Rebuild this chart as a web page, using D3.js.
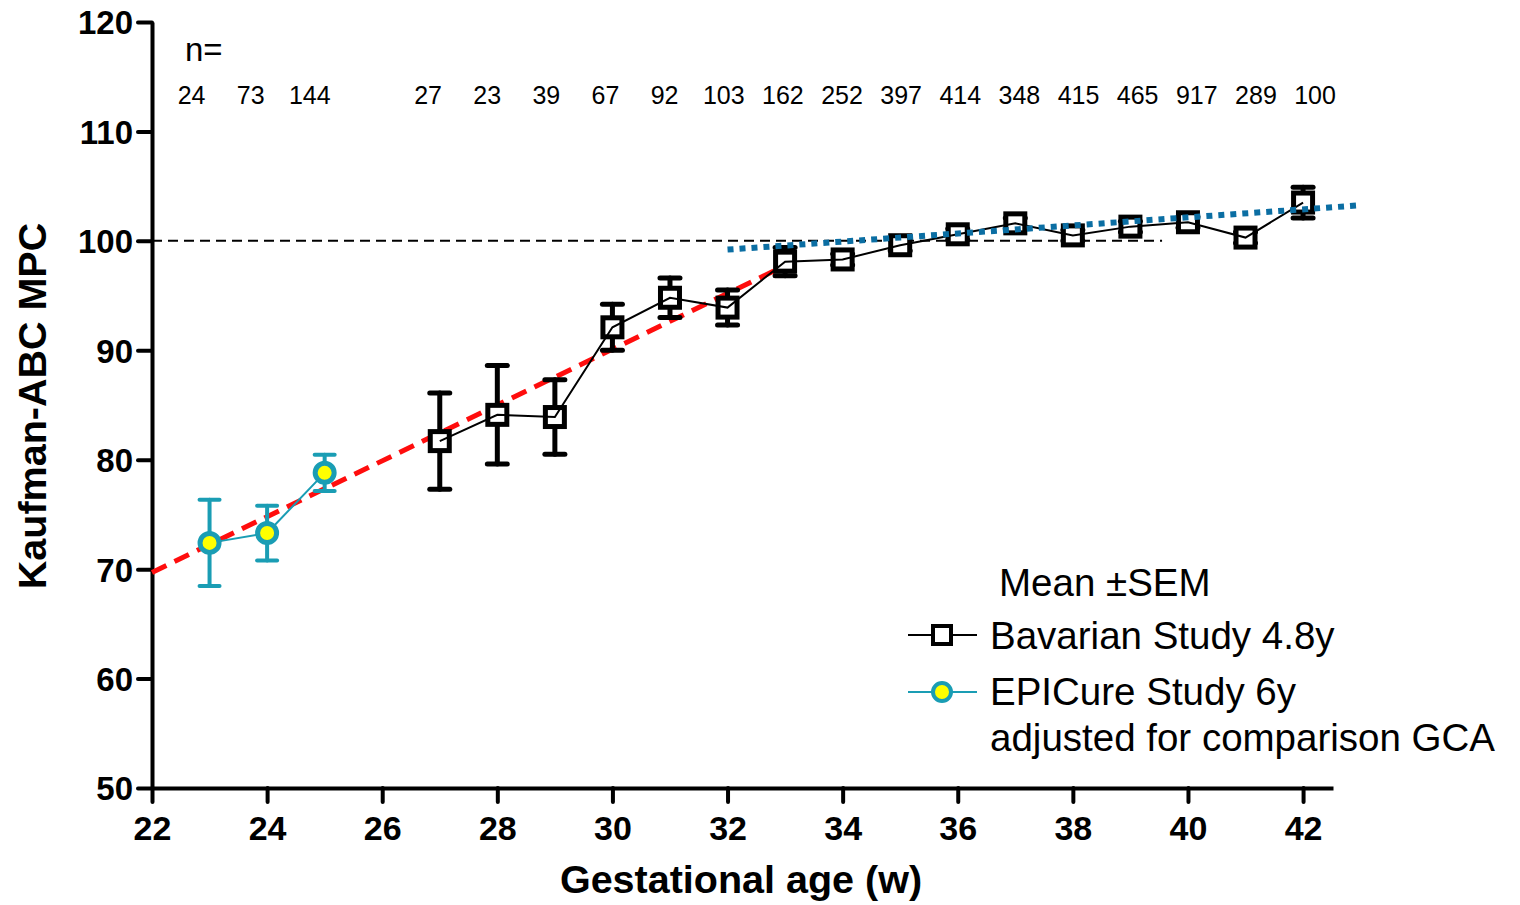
<!DOCTYPE html>
<html>
<head>
<meta charset="utf-8">
<script src="https://cdn.jsdelivr.net/npm/d3@7"></script>
<style>
  body { margin: 0; background: #fff; }
  svg { display: block; font-family: "Liberation Sans", Arial, sans-serif; }
  .axis path, .axis line { stroke: #000; stroke-width: 4px; }
  .axis line { stroke-linecap: round; }
  .axis text { font-weight: bold; fill: #000; }
</style>
</head>
<body>
<svg id="chart" width="1520" height="905"></svg>
<script>
// Bavarian Study 4.8y
var bavWeeks = [27, 28, 29, 30, 31, 32, 33, 34, 35, 36, 37, 38, 39, 40, 41, 42];
var bavMean  = [81.7, 84.1, 83.9, 92.1, 94.8, 93.9, 98.1, 98.3, 99.6, 100.6, 101.6, 100.5, 101.3, 101.7, 100.3, 103.5];
var bavSem   = [4.4, 4.5, 3.4, 2.1, 1.8, 1.6, 1.3, 0.5, 0.5, 0.5, 0.5, 0.5, 0.5, 0.5, 0.5, 1.4];

// EPICure Study 6y (adjusted)
var epiWeeks = [23, 24, 25];
var epiMean  = [72.4, 73.3, 78.8];
var epiSem   = [3.95, 2.5, 1.65];

// n per gestational week
var nWeeks  = [23, 24, 25, 27, 28, 29, 30, 31, 32, 33, 34, 35, 36, 37, 38, 39, 40, 41, 42];
var nCounts = [24, 73, 144, 27, 23, 39, 67, 92, 103, 162, 252, 397, 414, 348, 415, 465, 917, 289, 100];

// trend lines (endpoints)
var redTrend  = [[22, 69.7], [33.1, 98.0]];
var blueTrend = [[32, 99.2], [43, 103.25]];
var refLine   = [[22, 100], [39.55, 100]];

var xTicks = d3.range(22, 43, 2);
var yTicks = d3.range(50, 121, 10);

var svg = d3.select("#chart");

var x = d3.scaleLinear().domain([22, 42.52]).range([152, 1333]);
var y = d3.scaleLinear().domain([50, 120]).range([788, 22]);
// n labels sit slightly off the week positions in the original
var nx = d3.scaleLinear().domain([23, 42]).range([x(23) - 18, x(42) + 12]);

var TEAL = "#1a9db4";

// axes
var yAxis = svg.append("g")
    .attr("class", "axis")
    .attr("transform", "translate(" + x(22) + ",0)")
    .call(d3.axisLeft(y).tickValues(yTicks).tickSize(14).tickSizeOuter(0).tickPadding(5));
yAxis.selectAll("text").style("font-size", "33px").attr("dy", "0.36em");

var xAxis = svg.append("g")
    .attr("class", "axis")
    .attr("transform", "translate(0," + y(50) + ")")
    .call(d3.axisBottom(x).tickValues(xTicks).tickSize(14).tickSizeOuter(0).tickPadding(14));
xAxis.selectAll("text").style("font-size", "34px").attr("dy", "0.72em");

svg.append("text")
    .attr("x", 741)
    .attr("y", 893)
    .attr("text-anchor", "middle")
    .style("font-size", "39.5px").style("font-weight", "bold")
    .text("Gestational age (w)");

svg.append("text")
    .attr("transform", "translate(46," + 406 + ") rotate(-90)")
    .attr("text-anchor", "middle")
    .style("font-size", "39.5px").style("font-weight", "bold")
    .text("Kaufman-ABC MPC");

// n row
svg.append("text")
    .attr("x", 185).attr("y", 61)
    .style("font-size", "33px")
    .text("n=");

svg.append("g").selectAll("text")
    .data(nWeeks)
    .enter()
    .append("text")
    .attr("x", function(d) { return nx(d); })
    .attr("y", 104)
    .attr("text-anchor", "middle")
    .style("font-size", "25px")
    .text(function(d, i) { return nCounts[i]; });

var line = d3.line()
    .x(function(d) { return x(d[0]); })
    .y(function(d) { return y(d[1]); });

// reference line at 100
svg.append("path")
    .attr("d", line(refLine))
    .attr("fill", "none")
    .attr("stroke", "#000")
    .attr("stroke-width", 2)
    .attr("stroke-dasharray", "10,6");

// red trend under the markers
svg.append("path")
    .attr("d", line(redTrend))
    .attr("fill", "none")
    .attr("stroke", "#ff0d0d")
    .attr("stroke-width", 5)
    .attr("stroke-dasharray", "16,9");

// error bars
function errorBars(weeks, means, sems, color, width) {
    var g = svg.append("g")
        .attr("stroke", color)
        .attr("stroke-width", width)
        .attr("stroke-linecap", "round");
    weeks.forEach(function(w, i) {
        var top = y(means[i] + sems[i]), bot = y(means[i] - sems[i]);
        g.append("line").attr("x1", x(w)).attr("x2", x(w)).attr("y1", top).attr("y2", bot);
        g.append("line").attr("x1", x(w) - 10).attr("x2", x(w) + 10).attr("y1", top).attr("y2", top);
        g.append("line").attr("x1", x(w) - 10).attr("x2", x(w) + 10).attr("y1", bot).attr("y2", bot);
    });
}
errorBars(bavWeeks, bavMean, bavSem, "#000", 5);
errorBars(epiWeeks, epiMean, epiSem, TEAL, 4);

// EPICure connecting line sits under its markers
svg.append("path")
    .attr("d", line(epiWeeks.map(function(w, i) { return [w, epiMean[i]]; })))
    .attr("fill", "none").attr("stroke", TEAL).attr("stroke-width", 2);

// markers
svg.append("g").selectAll("rect")
    .data(bavWeeks)
    .enter()
    .append("rect")
    .attr("x", function(d) { return x(d) - 9.5; })
    .attr("y", function(d, i) { return y(bavMean[i]) - 9.5; })
    .attr("width", 19).attr("height", 19)
    .attr("fill", "#fff")
    .attr("stroke", "#000")
    .attr("stroke-width", 5);

svg.append("g").selectAll("circle")
    .data(epiWeeks)
    .enter()
    .append("circle")
    .attr("cx", function(d) { return x(d); })
    .attr("cy", function(d, i) { return y(epiMean[i]); })
    .attr("r", 9.5)
    .attr("fill", "#ffff00")
    .attr("stroke", TEAL)
    .attr("stroke-width", 5);

// Bavarian connecting line drawn over the open squares
svg.append("path")
    .attr("d", line(bavWeeks.map(function(w, i) { return [w, bavMean[i]]; })))
    .attr("fill", "none").attr("stroke", "#000").attr("stroke-width", 2);

svg.append("path")
    .attr("d", line(blueTrend))
    .attr("fill", "none")
    .attr("stroke", "#0b6ea3")
    .attr("stroke-width", 6)
    .attr("stroke-dasharray", "6,6");

// legend
var legend = svg.append("g").style("font-size", "38.5px");
legend.append("text").attr("x", 999).attr("y", 596).text("Mean \u00B1SEM");

legend.append("line").attr("x1", 908).attr("x2", 977).attr("y1", 635).attr("y2", 635)
    .attr("stroke", "#000").attr("stroke-width", 2);
legend.append("rect").attr("x", 933).attr("y", 626).attr("width", 18).attr("height", 18)
    .attr("fill", "#fff").attr("stroke", "#000").attr("stroke-width", 4);
legend.append("text").attr("x", 990).attr("y", 649).text("Bavarian Study 4.8y");

legend.append("line").attr("x1", 908).attr("x2", 977).attr("y1", 692).attr("y2", 692)
    .attr("stroke", TEAL).attr("stroke-width", 2);
legend.append("circle").attr("cx", 942).attr("cy", 692).attr("r", 9)
    .attr("fill", "#ffff00").attr("stroke", TEAL).attr("stroke-width", 4);
legend.append("text").attr("x", 990).attr("y", 705).text("EPICure Study 6y");
legend.append("text").attr("x", 990).attr("y", 751).text("adjusted for comparison GCA");
</script>
</body>
</html>
